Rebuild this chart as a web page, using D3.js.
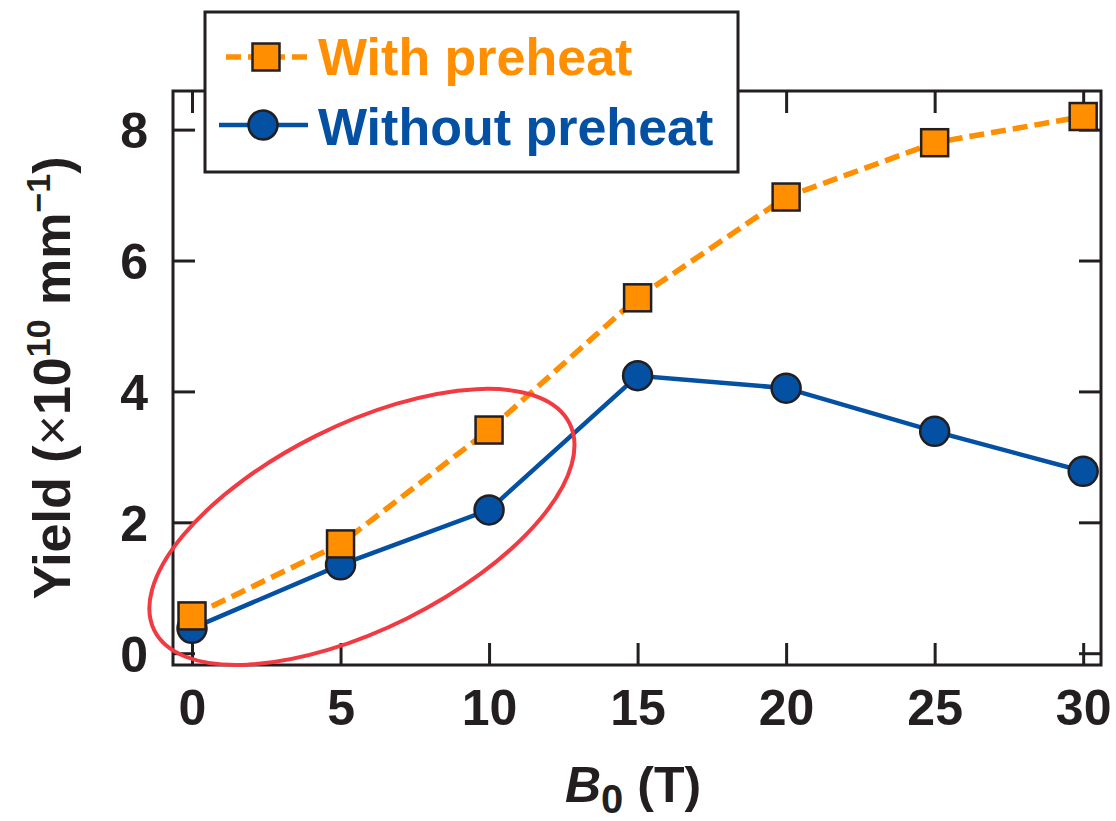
<!doctype html>
<html>
  <head>
    <meta charset="utf-8" />
    <title>Yield vs B0</title>
    <script src="https://cdn.jsdelivr.net/npm/d3@7"></script>
    <style>
      body{margin:0;padding:0;background:#fff;}
      svg text{font-family:"Liberation Sans",Arial,Helvetica,sans-serif;font-weight:bold;}
    </style>
  </head>
  <body>
<script type="text/javascript">

  // dati
  var bField = [0, 5, 10, 15, 20, 25, 30];
  var withPreheat = [0.57, 1.67, 3.41, 5.43, 6.97, 7.80, 8.20];
  var withoutPreheat = [0.38, 1.35, 2.19, 4.24, 4.05, 3.39, 2.78];
  var seriesNames = ["With preheat", "Without preheat"];
  var xTicks = [0, 5, 10, 15, 20, 25, 30];
  var yTicks = [0, 2, 4, 6, 8];

  // centro dell'ellisse rossa (in unita' dei dati)
  var ringCenter = {x: 5.72, y: 1.93};

  var width = 1116, height = 821;
  var orange = "#ff8f00", blue = "#0450a2", ink = "#231f20", red = "#f23a42";

  var frame = {left: 173, right: 1101, top: 91, bottom: 665};

  var x = d3.scaleLinear().domain([-0.64, 30.6]).range([frame.left, frame.right]);
  var y = d3.scaleLinear().domain([-0.18, 8.59]).range([frame.bottom, frame.top]);

  var svg = d3.select("body").append("svg")
              .attr("width", width).attr("height", height);

  // assi con tacche interne su tutti e quattro i lati
  var tick = 22;
  var gx = svg.append("g").attr("transform", "translate(0," + frame.bottom + ")")
              .call(d3.axisBottom(x).tickValues(xTicks).tickSize(-tick));
  gx.selectAll("text").attr("y", 60).attr("dy", null).attr("font-size", "50px").attr("fill", ink);

  var gy = svg.append("g").attr("transform", "translate(" + frame.left + ",0)")
              .call(d3.axisLeft(y).tickValues(yTicks).tickSize(-tick));
  gy.selectAll("text").attr("x", -25).attr("dy", "0.36em").attr("font-size", "50px").attr("fill", ink);

  svg.append("g").attr("transform", "translate(0," + frame.top + ")")
     .call(d3.axisTop(x).tickValues(xTicks).tickSize(-tick).tickFormat(""));
  svg.append("g").attr("transform", "translate(" + frame.right + ",0)")
     .call(d3.axisRight(y).tickValues(yTicks).tickSize(-tick).tickFormat(""));

  svg.selectAll(".domain").remove();
  svg.selectAll(".tick line").attr("stroke", ink).attr("stroke-width", 3);

  svg.append("rect")
     .attr("x", frame.left).attr("y", frame.top)
     .attr("width", frame.right - frame.left).attr("height", frame.bottom - frame.top)
     .attr("fill", "none").attr("stroke", ink).attr("stroke-width", 3);

  // linee
  var line = d3.line().x(function(d){ return x(d[0]); }).y(function(d){ return y(d[1]); });
  var ptsWith = bField.map(function(b, i){ return [b, withPreheat[i]]; });
  var ptsWithout = bField.map(function(b, i){ return [b, withoutPreheat[i]]; });

  svg.append("path").datum(ptsWithout).attr("d", line)
     .attr("fill", "none").attr("stroke", blue).attr("stroke-width", 4.5);
  svg.append("path").datum(ptsWith).attr("d", line)
     .attr("fill", "none").attr("stroke", orange).attr("stroke-width", 5.5)
     .attr("stroke-dasharray", "15,7");

  // marcatori
  var sq = 27, rad = 14.5;
  svg.selectAll(".dot").data(ptsWithout).enter().append("circle")
     .attr("cx", function(d){ return x(d[0]); }).attr("cy", function(d){ return y(d[1]); })
     .attr("r", rad).attr("fill", blue).attr("stroke", ink).attr("stroke-width", 2.5);
  svg.selectAll(".sq").data(ptsWith).enter().append("rect")
     .attr("x", function(d){ return x(d[0]) - sq/2; }).attr("y", function(d){ return y(d[1]) - sq/2; })
     .attr("width", sq).attr("height", sq)
     .attr("fill", orange).attr("stroke", ink).attr("stroke-width", 2.5);

  // ellisse rossa
  svg.append("ellipse")
     .attr("transform", "translate(" + x(ringCenter.x) + "," + y(ringCenter.y) + ") rotate(-26.5)")
     .attr("rx", 232).attr("ry", 102)
     .attr("fill", "none").attr("stroke", red).attr("stroke-width", 4);

  // legenda
  var leg = svg.append("g");
  leg.append("rect").attr("x", 205).attr("y", 12).attr("width", 533).attr("height", 160)
     .attr("fill", "#fff").attr("stroke", ink).attr("stroke-width", 3);
  leg.append("line").attr("x1", 226).attr("x2", 314).attr("y1", 57).attr("y2", 57)
     .attr("stroke", orange).attr("stroke-width", 5.5).attr("stroke-dasharray", "15,7");
  leg.append("rect").attr("x", 266 - sq/2).attr("y", 57 - sq/2).attr("width", sq).attr("height", sq)
     .attr("fill", orange).attr("stroke", ink).attr("stroke-width", 2.5);
  leg.append("text").attr("x", 318).attr("y", 75).attr("font-size", "52px").attr("fill", orange).text(seriesNames[0]);
  leg.append("line").attr("x1", 219).attr("x2", 308).attr("y1", 125).attr("y2", 125)
     .attr("stroke", blue).attr("stroke-width", 4.5);
  leg.append("circle").attr("cx", 263).attr("cy", 125).attr("r", rad)
     .attr("fill", blue).attr("stroke", ink).attr("stroke-width", 2.5);
  leg.append("text").attr("x", 318).attr("y", 145).attr("font-size", "52px").attr("fill", blue).text(seriesNames[1]);

  // titolo asse x
  var tx = svg.append("text").attr("x", 565).attr("y", 802).attr("font-size", "50px").attr("fill", ink);
  tx.append("tspan").attr("font-style", "italic").text("B");
  tx.append("tspan").attr("font-size", "40px").attr("dy", 11).text("0");
  tx.append("tspan").attr("dy", -11).text(" (T)");

  // titolo asse y
  var ty = svg.append("text").attr("transform", "translate(70," + ((frame.top + frame.bottom)/2) + ") rotate(-90)")
              .attr("text-anchor", "middle").attr("font-size", "52px").attr("fill", ink);
  ty.append("tspan").text("Yield (");
  ty.append("tspan").attr("font-weight", "normal").text("\u00d7");
  ty.append("tspan").text("10");
  ty.append("tspan").attr("font-size", "34px").attr("dy", -20).text("10");
  ty.append("tspan").attr("dy", 20).text(" mm");
  ty.append("tspan").attr("font-size", "34px").attr("dy", -20).text("\u22121");
  ty.append("tspan").attr("dy", 20).text(")");

</script>
  </body>
</html>
